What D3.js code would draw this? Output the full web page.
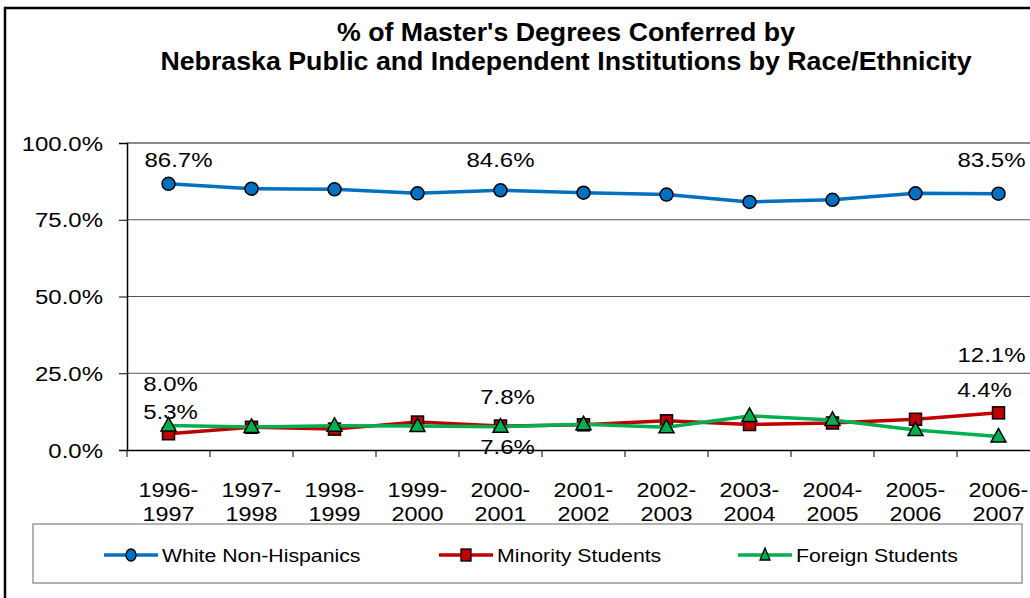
<!DOCTYPE html>
<html><head><meta charset="utf-8">
<script src="https://cdn.jsdelivr.net/npm/d3@7"></script>
<style>body{margin:0;background:#fff}svg{display:block}text{font-family:"Liberation Sans",Arial,sans-serif}</style>
</head><body>
<script>
const categories = ["1996-1997","1997-1998","1998-1999","1999-2000","2000-2001","2001-2002","2002-2003","2003-2004","2004-2005","2005-2006","2006-2007"];
const white = [86.7, 85.1, 84.9, 83.6, 84.6, 83.8, 83.2, 80.8, 81.5, 83.6, 83.5];
const minority = [5.3, 7.4, 6.8, 9.1, 7.8, 8.2, 9.5, 8.3, 8.8, 10.0, 12.1];
const foreign = [8.0, 7.5, 7.9, 7.8, 7.6, 8.4, 7.4, 11.1, 9.8, 6.5, 4.4];
const yTicks = [0, 25, 50, 75, 100];
const seriesNames = ["White Non-Hispanics", "Minority Students", "Foreign Students"];
const title = ["% of Master's Degrees Conferred by", "Nebraska Public and Independent Institutions by Race/Ethnicity"];

const W = 1030, H = 598;
const svg = d3.select("body").append("svg").attr("width", W).attr("height", H);

// outer chart border
svg.append("rect").attr("x", 5).attr("y", 8).attr("width", 1100).attr("height", 700)
  .attr("fill", "#fff").attr("stroke", "#000").attr("stroke-width", 2.5);

function txt(g, x, y, s, size, anchor, bold, sx) {
  const t = g.append("text").attr("transform", `translate(${x},${y}) scale(${sx || 1.17},1)`)
    .attr("font-size", size).attr("text-anchor", anchor || "middle")
    .attr("fill", "#000").text(s);
  if (bold) t.attr("font-weight", "bold");
  return t;
}

// title
txt(svg, 566, 41, title[0], 25, "middle", true, 1.07);
txt(svg, 566, 70, title[1], 25, "middle", true, 1.07);

const plotL = 127, bandW = 83;
const x = d3.scaleBand().domain(categories).range([plotL, plotL + bandW * categories.length]);
const y = d3.scaleLinear().domain([0, 100]).range([450, 143]);
const cx = d => x(d) + x.bandwidth() / 2;

// gridlines
svg.append("g").selectAll("line").data(yTicks.filter(v => v > 0 && v < 100)).join("line")
  .attr("x1", plotL).attr("x2", W).attr("y1", d => y(d)).attr("y2", d => y(d))
  .attr("stroke", "#555").attr("stroke-width", 1);
// top border of plot area
svg.append("line").attr("x1", plotL).attr("x2", W).attr("y1", y(100)).attr("y2", y(100))
  .attr("stroke", "#8a8a8a").attr("stroke-width", 2);

// y axis
const yAxis = svg.append("g").attr("transform", `translate(${plotL},0)`)
  .call(d3.axisLeft(y).tickValues(yTicks).tickSize(8).tickFormat(() => ""));
yAxis.select(".domain").attr("stroke", "#000").attr("stroke-width", 1.5);
yAxis.selectAll(".tick line").attr("stroke", "#000");
yTicks.forEach(v => txt(svg, 103, y(v) + 7.5, d3.format(".1f")(v) + "%", 20.5, "end"));

// x axis
const xAxis = svg.append("g").attr("transform", `translate(0,${y(0)})`)
  .call(d3.axisBottom(x).tickSize(0).tickFormat(() => ""));
xAxis.select(".domain").attr("stroke", "#000").attr("stroke-width", 1.5);
svg.append("g").selectAll("line").data(categories).join("line")
  .attr("x1", d => x(d)).attr("x2", d => x(d)).attr("y1", y(0)).attr("y2", y(0) + 7)
  .attr("stroke", "#000");
categories.forEach(c => {
  const [a, b] = c.split("-");
  txt(svg, cx(c), 497, a + "-", 20, "middle");
  txt(svg, cx(c), 521, b, 20, "middle");
});

const colors = ["#0070C0", "#C00000", "#00B050"];
const data = [white, minority, foreign];
const line = d3.line().x((d, i) => cx(categories[i])).y(d => y(d));

function marker(g, type, px, py, color) {
  if (type === 0) g.append("circle").attr("cx", px).attr("cy", py).attr("r", 6.5).attr("fill", color).attr("stroke", "#000").attr("stroke-width", 1.5);
  else if (type === 1) g.append("rect").attr("x", px - 6).attr("y", py - 6).attr("width", 12).attr("height", 12).attr("fill", color).attr("stroke", "#000").attr("stroke-width", 1.5);
  else g.append("path").attr("d", `M${px},${py - 8}L${px + 7.5},${py + 5.5}L${px - 7.5},${py + 5.5}Z`).attr("fill", color).attr("stroke", "#000").attr("stroke-width", 1.5);
}

data.forEach((vals, k) => {
  const g = svg.append("g");
  g.append("path").datum(vals).attr("d", line).attr("fill", "none")
    .attr("stroke", colors[k]).attr("stroke-width", 3.5).attr("stroke-linejoin", "round");
  vals.forEach((v, i) => marker(g, k, cx(categories[i]), y(v), colors[k]));
});

// data labels
const fmt = v => d3.format(".1f")(v) + "%";
const lab = svg.append("g");
const n = categories.length - 1;
const LS = 20.5;
txt(lab, cx(categories[0]) + 10, 167, fmt(white[0]), LS);
txt(lab, cx(categories[4]), 167, fmt(white[4]), LS);
txt(lab, cx(categories[n]) - 7, 167, fmt(white[n]), LS);
txt(lab, cx(categories[0]) + 2, 391, fmt(foreign[0]), LS);
txt(lab, cx(categories[0]) + 2, 419, fmt(minority[0]), LS);
txt(lab, cx(categories[4]) + 7, 404, fmt(minority[4]), LS);
txt(lab, cx(categories[4]) + 7, 454, fmt(foreign[4]), LS);
txt(lab, cx(categories[n]) - 7, 362, fmt(minority[n]), LS);
txt(lab, cx(categories[n]) - 14, 397, fmt(foreign[n]), LS);

// legend
const lg = svg.append("g");
lg.append("rect").attr("x", 33).attr("y", 524).attr("width", 989).attr("height", 59)
  .attr("fill", "#fff").attr("stroke", "#999").attr("stroke-width", 1.5);
const lx = [104, 439, 738];
seriesNames.forEach((s, k) => {
  lg.append("line").attr("x1", lx[k]).attr("x2", lx[k] + 54).attr("y1", 555).attr("y2", 555)
    .attr("stroke", colors[k]).attr("stroke-width", 3.5);
  const mg = lg.append("g");
  if (k === 0) mg.append("ellipse").attr("cx", lx[k] + 27).attr("cy", 555).attr("rx", 5).attr("ry", 6).attr("fill", colors[k]).attr("stroke", "#000").attr("stroke-width", 1.3);
  else if (k === 1) mg.append("rect").attr("x", lx[k] + 22).attr("y", 549).attr("width", 10).attr("height", 12).attr("fill", colors[k]).attr("stroke", "#000").attr("stroke-width", 1.3);
  else mg.append("path").attr("d", `M${lx[k] + 27},${548}L${lx[k] + 32},${560}L${lx[k] + 22},${560}Z`).attr("fill", colors[k]).attr("stroke", "#000").attr("stroke-width", 1.3);
  txt(lg, lx[k] + 58, 561.5, s, 18.5, "start", false, 1.15);
});
</script>
</body></html>
